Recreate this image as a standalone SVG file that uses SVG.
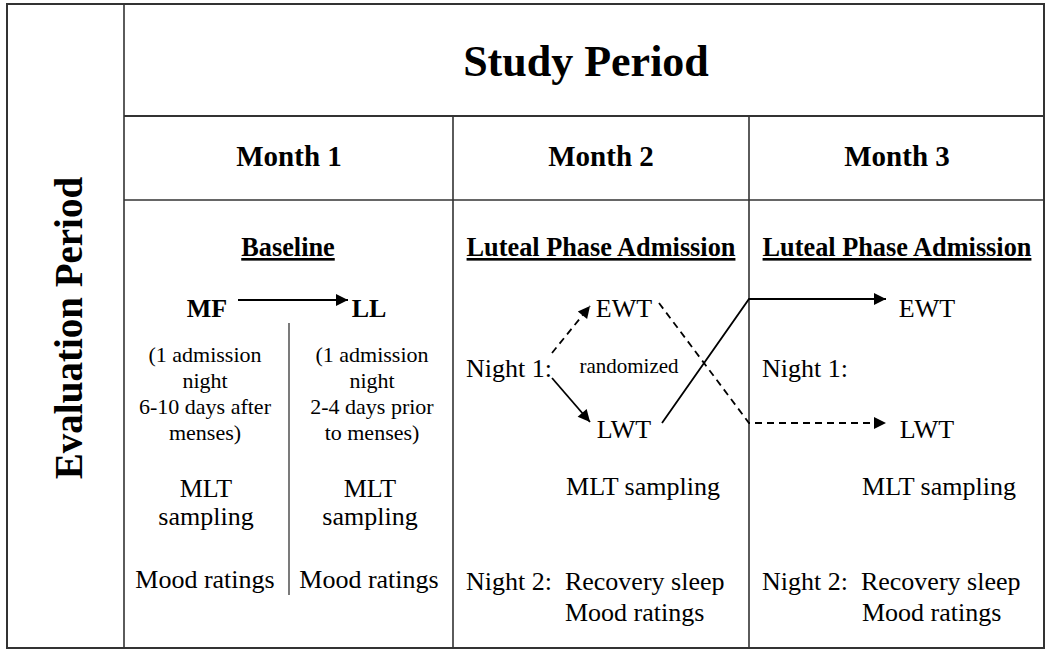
<svg xmlns="http://www.w3.org/2000/svg" width="1050" height="653" viewBox="0 0 1050 653">
<style>
text{font-family:"Liberation Serif","Times New Roman",serif;fill:#000}
.t{font-size:26px}
.s{font-size:22px}
.b{font-weight:bold}
.h{font-size:29px;font-weight:bold}
.u{font-size:26.3px;font-weight:bold;text-decoration:underline}
.m{text-anchor:middle}
.grid{stroke:#333;stroke-width:1.6;fill:none}
.c{stroke:#000;stroke-width:1.8;fill:none}
.d{stroke-dasharray:7,5}
</style>
<defs>
<marker id="ahl" viewBox="0 0 10 10" refX="10" refY="5" markerWidth="14" markerHeight="12" orient="auto" markerUnits="userSpaceOnUse">
<path d="M0,0 L10,5 L0,10 z" fill="#000"/>
</marker>
</defs>
<rect width="1050" height="653" fill="#fff"/>
<g id="grid" class="grid">
<rect x="7" y="4" width="1037" height="644" stroke-width="2"/>
<line x1="124" y1="4" x2="124" y2="648"/>
<line x1="124" y1="116" x2="1044" y2="116" stroke-width="2"/>
<line x1="124" y1="200" x2="1044" y2="200"/>
<line x1="453" y1="116" x2="453" y2="648"/>
<line x1="749" y1="116" x2="749" y2="648"/>
<line x1="289" y1="323" x2="289" y2="595" stroke-width="1.3"/>
</g>
<g id="headers">
<text class="b m" x="586" y="76" font-size="44">Study Period</text>
<text class="b m" transform="translate(82,328) rotate(-90)" font-size="39">Evaluation Period</text>
<text class="h m" x="289" y="166">Month 1</text>
<text class="h m" x="601" y="166">Month 2</text>
<text class="h m" x="897" y="166">Month 3</text>
</g>
<g id="month1">
<text class="u m" x="288" y="256">Baseline</text>
<text class="t b m" x="207" y="317">MF</text>
<text class="t b m" x="369" y="317">LL</text>
<text class="s m" x="205" y="362">(1 admission</text>
<text class="s m" x="205" y="388">night</text>
<text class="s m" x="205" y="414">6-10 days after</text>
<text class="s m" x="205" y="440">menses)</text>
<text class="t m" x="206" y="497">MLT</text>
<text class="t m" x="206" y="525">sampling</text>
<text class="t m" x="205" y="588">Mood ratings</text>
<text class="s m" x="372" y="362">(1 admission</text>
<text class="s m" x="372" y="388">night</text>
<text class="s m" x="372" y="414">2-4 days prior</text>
<text class="s m" x="372" y="440">to menses)</text>
<text class="t m" x="370" y="497">MLT</text>
<text class="t m" x="370" y="525">sampling</text>
<text class="t m" x="369" y="588">Mood ratings</text>
</g>
<g id="month2">
<text class="u m" x="601" y="256">Luteal Phase Admission</text>
<text class="t m" x="624" y="317">EWT</text>
<text class="t" x="466" y="377">Night 1:</text>
<text class="m" x="629" y="373" font-size="21">randomized</text>
<text class="t m" x="624" y="438">LWT</text>
<text class="t m" x="643" y="495">MLT sampling</text>
<text class="t" x="466" y="590" xml:space="preserve">Night 2:  Recovery sleep</text>
<text class="t" x="565" y="621">Mood ratings</text>
</g>
<g id="month3">
<text class="u m" x="897" y="256">Luteal Phase Admission</text>
<text class="t m" x="927" y="317">EWT</text>
<text class="t" x="762" y="377">Night 1:</text>
<text class="t m" x="927" y="438">LWT</text>
<text class="t m" x="939" y="495">MLT sampling</text>
<text class="t" x="762" y="590" xml:space="preserve">Night 2:  Recovery sleep</text>
<text class="t" x="862" y="621">Mood ratings</text>
</g>
<g id="connectors">
<line class="c" x1="238" y1="300" x2="348" y2="300" marker-end="url(#ahl)"/>
<line class="c d" x1="552" y1="353" x2="590" y2="306" marker-end="url(#ahl)"/>
<line class="c" x1="552" y1="378" x2="590" y2="422" marker-end="url(#ahl)"/>
<polyline class="c" points="662,423 749,299 886,299" marker-end="url(#ahl)"/>
<polyline class="c d" points="659,303 749,423 886,423" marker-end="url(#ahl)"/>
</g>
</svg>
